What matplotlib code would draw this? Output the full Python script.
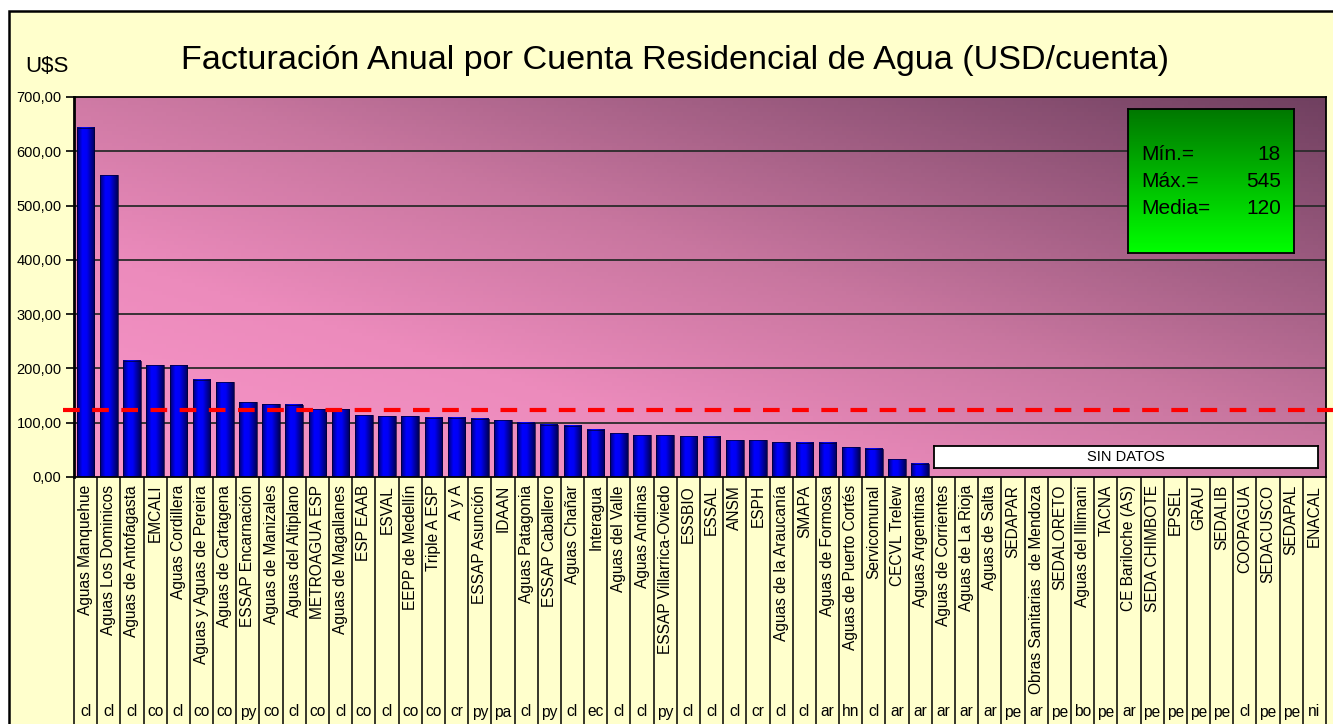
import numpy as np
import matplotlib
matplotlib.use("Agg")
from matplotlib import pyplot as plt
from matplotlib.colors import LinearSegmentedColormap
from matplotlib.patches import Rectangle
from matplotlib.transforms import blended_transform_factory

plt.rcParams['font.family'] = ['Liberation Sans', 'DejaVu Sans']

names = [
    "Aguas Manquehue", "Aguas Los Dominicos", "Aguas de Antofagasta", "EMCALI",
    "Aguas Cordillera", "Aguas y Aguas de Pereira", "Aguas de Cartagena",
    "ESSAP Encarnación", "Aguas de Manizales", "Aguas del Altiplano",
    "METROAGUA ESP", "Aguas de Magallanes", "ESP EAAB", "ESVAL",
    "EEPP de Medellín", "Triple A ESP", "A y A", "ESSAP Asunción", "IDAAN",
    "Aguas Patagonia", "ESSAP Caballero", "Aguas Chañar", "Interagua",
    "Aguas del Valle", "Aguas Andinas", "ESSAP Villarrica-Oviedo", "ESSBIO",
    "ESSAL", "ANSM", "ESPH", "Aguas de la Araucanía", "SMAPA",
    "Aguas de Formosa", "Aguas de Puerto Cortés", "Servicomunal",
    "CECVL Trelew", "Aguas Argentinas", "Aguas de Corrientes",
    "Aguas de La Rioja", "Aguas de Salta", "SEDAPAR",
    "Obras Sanitarias  de Mendoza", "SEDALORETO", "Aguas del Illimani", "TACNA",
    "CE Bariloche (AS)", "SEDA CHIMBOTE", "EPSEL", "GRAU", "SEDALIB",
    "COOPAGUA", "SEDACUSCO", "SEDAPAL", "ENACAL",
]
countries = [
    "cl", "cl", "cl", "co", "cl", "co", "co", "py", "co", "cl", "co", "cl",
    "co", "cl", "co", "co", "cr", "py", "pa", "cl", "py", "cl", "ec", "cl",
    "cl", "py", "cl", "cl", "cl", "cr", "cl", "cl", "ar", "hn", "cl", "ar",
    "ar", "ar", "ar", "ar", "pe", "ar", "pe", "bo", "pe", "ar", "pe", "pe",
    "pe", "pe", "cl", "pe", "pe", "ni",
]
values = [
    643, 556, 214, 206, 206, 179, 175, 138, 134, 133, 125, 125, 114, 112,
    112, 109, 109, 107, 105, 100, 96, 94, 87, 81, 77, 77, 75, 74, 68, 68,
    64, 63, 63, 55, 52, 33, 24,
] + [0] * 17
mean_value = 123
stat_labels = ["Mín.=", "Máx.=", "Media="]
stat_values = ["18", "545", "120"]

W, H = 1333, 724
fig = plt.figure(figsize=(W / 100, H / 100), dpi=100, facecolor='white')

# yellow chart area with black frame
fig.patches.append(Rectangle((9 / W, -0.05), 1.05, 1 - 11 / H + 0.05,
                             transform=fig.transFigure, facecolor='#FFFFCC',
                             edgecolor='black', lw=1.8, zorder=-10))

left, right, top, bottom = 74, 1326, 97, 477
ax = fig.add_axes([left / W, 1 - bottom / H, (right - left) / W, (bottom - top) / H])

n = len(names)
x = np.arange(n)

# diagonal pink-to-purple background
bg_cmap = LinearSegmentedColormap.from_list(
    'bg', [(0, '#F996C9'), (0.3, '#EC8BBC'), (0.55, '#C8769F'), (1, '#704060')])
gx, gy = np.meshgrid(np.linspace(0, 1, 300), np.linspace(1, 0, 100))
ax.imshow((gx + gy) / 2, cmap=bg_cmap, extent=(-0.5, n - 0.5, 0, 700),
          aspect='auto', zorder=0, vmin=0, vmax=1)

for yv in range(100, 700, 100):
    ax.axhline(yv, color='#2b2b2b', lw=1.3, zorder=1)

# bars with horizontal shading
bar_cmap = LinearSegmentedColormap.from_list(
    'bar', [(0, '#000070'), (0.3, '#0000FF'), (0.55, '#0000F5'), (1, '#000055')])
bw = 0.76
shade = np.linspace(0, 1, 50).reshape(1, -1)
for xi, v in zip(x, values):
    if v > 0:
        ax.imshow(shade, cmap=bar_cmap, extent=(xi - bw / 2, xi + bw / 2, 0, v),
                  aspect='auto', zorder=2)
ax.bar(x, values, width=bw, facecolor='none', edgecolor='#000030', lw=0.5, zorder=3)

ax.set_xlim(-0.5, n - 0.5)
ax.set_ylim(0, 700)
ax.set_yticks(range(0, 701, 100))
ax.set_yticklabels([f"{v},00" for v in range(0, 701, 100)])
ax.tick_params(axis='y', labelsize=10.5, length=6, width=1.2, direction='out', pad=3)
ax.set_xticks([])
for s in ax.spines.values():
    s.set_color('black')
    s.set_linewidth(1.3)
ax.spines['left'].set_linewidth(2)

# mean line
ax.plot([-0.009, 1.01], [mean_value, mean_value], color='#FF0000', lw=3,
        dashes=(4, 3), transform=blended_transform_factory(ax.transAxes, ax.transData),
        clip_on=False, zorder=5)

# category axis: names, country codes and separators
tr = blended_transform_factory(ax.transData, ax.transAxes)
sep_bottom = -(H - bottom + 10) / (bottom - top)
ax.vlines(np.arange(n + 1) - 0.5, sep_bottom, 0, transform=tr, color='black',
          lw=1.1, clip_on=False)
for xi, name, code in zip(x, names, countries):
    ax.text(xi, -8 / (bottom - top), name, rotation=90, ha='center', va='top',
            fontsize=11.2, transform=tr)
    ax.text(xi, -(712 - bottom) / (bottom - top), code, ha='center', va='center',
            fontsize=11.2, transform=tr)

# SIN DATOS box
ax_sd = fig.add_axes([934 / W, 1 - 468 / H, (1318 - 934) / W, 22 / H])
ax_sd.set_xticks([])
ax_sd.set_yticks([])
ax_sd.set_facecolor('white')
for s in ax_sd.spines.values():
    s.set_linewidth(1.3)
ax_sd.text(0.5, 0.48, "SIN DATOS", ha='center', va='center', fontsize=10.5,
           transform=ax_sd.transAxes)

# stats box with green gradient
ax_st = fig.add_axes([1128 / W, 1 - 253 / H, (1294 - 1128) / W, (253 - 109) / H])
green = LinearSegmentedColormap.from_list('g', ['#007800', '#00FF00'])
ax_st.imshow(np.linspace(0, 1, 100).reshape(-1, 1), cmap=green, aspect='auto',
             extent=(0, 1, 0, 1))
ax_st.set_xlim(0, 1)
ax_st.set_ylim(0, 1)
ax_st.set_xticks([])
ax_st.set_yticks([])
for s in ax_st.spines.values():
    s.set_linewidth(1.3)
for k, (lab, val) in enumerate(zip(stat_labels, stat_values)):
    yy = 1 - (155 + 26.5 * k - 109) / 144
    ax_st.text(13 / 166, yy, lab, ha='left', va='center', fontsize=15)
    ax_st.text(153 / 166, yy, val, ha='right', va='center', fontsize=15)

fig.text(675 / W, 1 - 61 / H,
         "Facturación Anual por Cuenta Residencial de Agua (USD/cuenta)",
         ha='center', va='center', fontsize=24.6)
fig.text(25 / W, 1 - 67 / H, "U$S", ha='left', va='center', fontsize=16)

fig.savefig("out.png", dpi=100, facecolor='white')
